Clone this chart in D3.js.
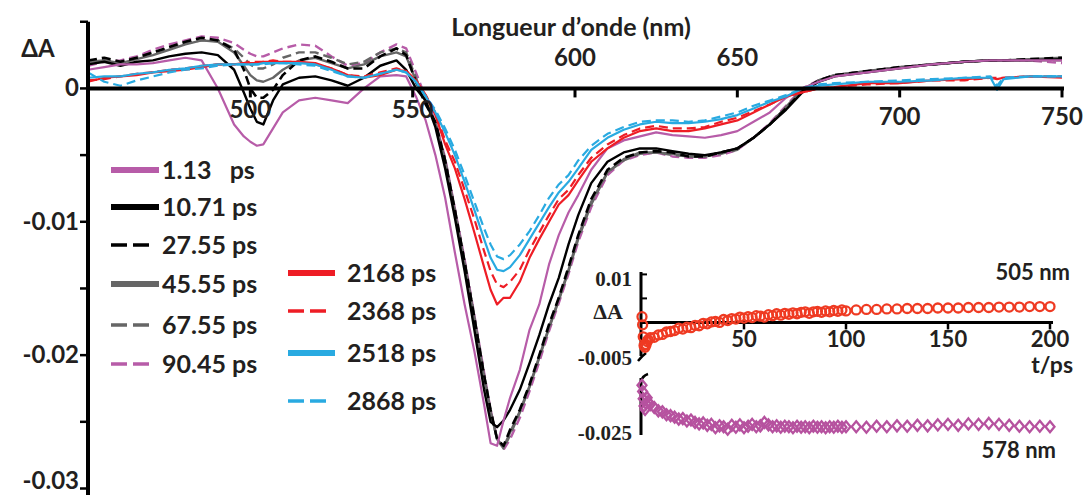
<!DOCTYPE html>
<html><head><meta charset="utf-8">
<script src="https://cdn.jsdelivr.net/npm/d3@7"></script>
<style>
body{margin:0;background:#fff;}
svg{display:block;font-family:Lato,"Open Sans",sans-serif;font-weight:bold;}
.serif{font-family:"Liberation Serif","DejaVu Serif",serif;font-weight:bold;}
</style></head><body>
<svg id="chart" width="1084" height="495"></svg>
<script>
// ---------- DATA ----------
const wavelengths = [450,455,460,465,470,475,480,485,490,495,498,500,502,504,507,510,515,520,525,530,535,540,545,548,551,554,557,560,563,566,569,572,574,576,578,580,583,586,589,592,595,598,601,605,610,615,620,625,630,635,640,645,650,655,660,665,670,675,680,690,700,710,720,728,730,732,740,750];

const dA_1_13ps = [0.0014,0.0016,0.0018,0.0018,0.0019,0.0021,0.0023,0.0021,0.0000,-0.0027,-0.0036,-0.0040,-0.0043,-0.0042,-0.0030,-0.0018,-0.0009,-0.0007,-0.0009,-0.0011,0.0000,0.0009,0.0010,0.0009,-0.0006,-0.0024,-0.0050,-0.0082,-0.0123,-0.0162,-0.0197,-0.0237,-0.0266,-0.0268,-0.0249,-0.0232,-0.0211,-0.0181,-0.0162,-0.0132,-0.0110,-0.0093,-0.0080,-0.0061,-0.0045,-0.0039,-0.0036,-0.0033,-0.0035,-0.0036,-0.0037,-0.0035,-0.0032,-0.0025,-0.0018,-0.0007,0.0000,0.0005,0.0009,0.0012,0.0015,0.0018,0.0020,0.0021,0.0021,0.0021,0.0021,0.0021];
const dA_10_71ps = [0.0018,0.0020,0.0017,0.0020,0.0021,0.0024,0.0026,0.0027,0.0025,0.0014,-0.0003,-0.0015,-0.0025,-0.0027,-0.0009,0.0003,0.0008,0.0009,0.0006,0.0002,0.0008,0.0017,0.0021,0.0014,0.0000,-0.0009,-0.0029,-0.0060,-0.0097,-0.0137,-0.0181,-0.0226,-0.0250,-0.0254,-0.0249,-0.0241,-0.0226,-0.0206,-0.0185,-0.0162,-0.0142,-0.0117,-0.0095,-0.0071,-0.0055,-0.0048,-0.0045,-0.0045,-0.0047,-0.0049,-0.0050,-0.0048,-0.0045,-0.0037,-0.0027,-0.0016,-0.0003,0.0005,0.0009,0.0012,0.0015,0.0018,0.0020,0.0021,0.0021,0.0021,0.0021,0.0022];
const dA_27_55ps = [0.0021,0.0023,0.0020,0.0023,0.0027,0.0031,0.0035,0.0038,0.0036,0.0029,0.0014,0.0000,-0.0007,-0.0007,-0.0001,0.0010,0.0021,0.0024,0.0020,0.0015,0.0015,0.0024,0.0030,0.0025,0.0005,-0.0012,-0.0025,-0.0054,-0.0091,-0.0130,-0.0172,-0.0215,-0.0241,-0.0263,-0.0268,-0.0256,-0.0241,-0.0222,-0.0200,-0.0177,-0.0157,-0.0134,-0.0110,-0.0083,-0.0061,-0.0052,-0.0048,-0.0047,-0.0048,-0.0051,-0.0051,-0.0048,-0.0045,-0.0037,-0.0027,-0.0015,-0.0002,0.0006,0.0010,0.0013,0.0016,0.0018,0.0020,0.0021,0.0021,0.0021,0.0022,0.0023];
const dA_45_55ps = [0.0020,0.0021,0.0019,0.0022,0.0025,0.0029,0.0033,0.0036,0.0035,0.0027,0.0017,0.0010,0.0006,0.0005,0.0008,0.0014,0.0021,0.0023,0.0019,0.0015,0.0018,0.0024,0.0027,0.0024,0.0006,-0.0010,-0.0026,-0.0054,-0.0092,-0.0131,-0.0172,-0.0216,-0.0242,-0.0263,-0.0269,-0.0258,-0.0242,-0.0223,-0.0201,-0.0179,-0.0158,-0.0136,-0.0111,-0.0085,-0.0063,-0.0053,-0.0048,-0.0048,-0.0049,-0.0051,-0.0051,-0.0048,-0.0045,-0.0037,-0.0027,-0.0014,-0.0001,0.0006,0.0010,0.0013,0.0016,0.0018,0.0020,0.0021,0.0021,0.0021,0.0022,0.0023];
const dA_67_55ps = [0.0020,0.0021,0.0020,0.0023,0.0027,0.0030,0.0034,0.0036,0.0036,0.0030,0.0023,0.0018,0.0015,0.0015,0.0018,0.0023,0.0027,0.0027,0.0023,0.0018,0.0020,0.0027,0.0030,0.0027,0.0008,-0.0010,-0.0026,-0.0054,-0.0091,-0.0130,-0.0171,-0.0215,-0.0242,-0.0263,-0.0270,-0.0260,-0.0243,-0.0224,-0.0202,-0.0180,-0.0159,-0.0137,-0.0113,-0.0087,-0.0063,-0.0054,-0.0049,-0.0048,-0.0050,-0.0051,-0.0051,-0.0049,-0.0046,-0.0037,-0.0027,-0.0014,-0.0001,0.0006,0.0010,0.0013,0.0016,0.0018,0.0020,0.0021,0.0021,0.0021,0.0021,0.0021];
const dA_90_45ps = [0.0017,0.0020,0.0021,0.0024,0.0029,0.0033,0.0036,0.0039,0.0038,0.0034,0.0029,0.0026,0.0024,0.0024,0.0027,0.0030,0.0033,0.0032,0.0024,0.0017,0.0019,0.0027,0.0033,0.0030,0.0012,-0.0007,-0.0025,-0.0052,-0.0090,-0.0128,-0.0170,-0.0213,-0.0241,-0.0262,-0.0271,-0.0263,-0.0247,-0.0227,-0.0205,-0.0182,-0.0161,-0.0139,-0.0115,-0.0089,-0.0065,-0.0054,-0.0050,-0.0048,-0.0051,-0.0052,-0.0052,-0.0050,-0.0046,-0.0037,-0.0026,-0.0013,0.0000,0.0006,0.0010,0.0013,0.0016,0.0018,0.0020,0.0021,0.0021,0.0021,0.0021,0.0019];
const dA_2168ps = [0.0005,0.0008,0.0009,0.0010,0.0012,0.0013,0.0014,0.0016,0.0018,0.0018,0.0019,0.0019,0.0019,0.0020,0.0020,0.0020,0.0020,0.0019,0.0015,0.0010,0.0008,0.0010,0.0014,0.0013,0.0006,-0.0005,-0.0020,-0.0042,-0.0060,-0.0083,-0.0108,-0.0134,-0.0151,-0.0162,-0.0157,-0.0157,-0.0145,-0.0127,-0.0113,-0.0100,-0.0087,-0.0080,-0.0069,-0.0055,-0.0045,-0.0037,-0.0032,-0.0030,-0.0032,-0.0032,-0.0030,-0.0027,-0.0024,-0.0018,-0.0012,-0.0006,-0.0003,0.0000,0.0001,0.0004,0.0004,0.0006,0.0007,0.0008,0.0007,0.0008,0.0009,0.0008];
const dA_2368ps = [0.0006,0.0007,0.0009,0.0011,0.0012,0.0014,0.0015,0.0017,0.0018,0.0018,0.0019,0.0020,0.0020,0.0020,0.0021,0.0020,0.0020,0.0018,0.0015,0.0010,0.0009,0.0012,0.0015,0.0013,0.0006,-0.0005,-0.0018,-0.0039,-0.0055,-0.0076,-0.0098,-0.0122,-0.0137,-0.0147,-0.0149,-0.0145,-0.0136,-0.0121,-0.0108,-0.0095,-0.0083,-0.0076,-0.0065,-0.0052,-0.0042,-0.0035,-0.0030,-0.0028,-0.0030,-0.0030,-0.0029,-0.0025,-0.0022,-0.0017,-0.0012,-0.0006,-0.0003,0.0000,0.0001,0.0003,0.0004,0.0006,0.0006,0.0008,0.0008,0.0008,0.0009,0.0009];
const dA_2518ps = [0.0008,0.0009,0.0009,0.0011,0.0012,0.0014,0.0015,0.0017,0.0018,0.0018,0.0018,0.0018,0.0018,0.0019,0.0019,0.0019,0.0019,0.0018,0.0014,0.0009,0.0008,0.0011,0.0014,0.0012,0.0005,-0.0006,-0.0018,-0.0033,-0.0050,-0.0070,-0.0091,-0.0113,-0.0127,-0.0136,-0.0137,-0.0134,-0.0125,-0.0113,-0.0101,-0.0089,-0.0078,-0.0070,-0.0060,-0.0046,-0.0037,-0.0031,-0.0027,-0.0025,-0.0026,-0.0026,-0.0025,-0.0023,-0.0020,-0.0015,-0.0010,-0.0006,0.0000,0.0002,0.0003,0.0005,0.0005,0.0006,0.0008,0.0008,-0.0001,0.0007,0.0009,0.0009];
const dA_2868ps = [0.0012,0.0005,0.0002,0.0006,0.0009,0.0012,0.0014,0.0015,0.0017,0.0018,0.0018,0.0018,0.0018,0.0018,0.0019,0.0019,0.0018,0.0017,0.0013,0.0009,0.0008,0.0011,0.0014,0.0012,0.0005,-0.0006,-0.0016,-0.0030,-0.0046,-0.0065,-0.0085,-0.0105,-0.0117,-0.0126,-0.0128,-0.0125,-0.0117,-0.0107,-0.0095,-0.0082,-0.0072,-0.0065,-0.0054,-0.0043,-0.0034,-0.0029,-0.0025,-0.0024,-0.0024,-0.0025,-0.0024,-0.0021,-0.0018,-0.0013,-0.0009,-0.0005,0.0000,0.0003,0.0004,0.0005,0.0006,0.0007,0.0008,0.0009,0.0002,0.0008,0.0009,0.0009];

const legendLabels = ["1.13   ps","10.71 ps","27.55 ps","45.55 ps","67.55 ps","90.45 ps","2168 ps","2368 ps","2518 ps","2868 ps"];
const xTickValues = [500,550,600,650,700,750];
const yTickLabelValues = [0,-0.01,-0.02,-0.03];
const yMinorTicks = [0.005,0,-0.005,-0.01,-0.015,-0.02,-0.025,-0.03];

// inset kinetics
const insetTime = [0,0.3,0.6,1,1.5,2,2.5,3,4,6,8,10,12,14,16,18,20,22,24,26,28,30,32,34,36,38,40,42,44,46,48,50,52,54,56,58,60,62,64,66,68,70,72,74,76,78,80,82,84,86,88,90,92,94,96,98,100,105,110,115,120,125,130,135,140,145,150,155,160,165,170,175,180,185,190,195,200];
const kin505 = [0.0012,-0.0005,-0.0030,-0.0048,-0.0052,-0.0046,-0.0040,-0.0036,
 -0.0032,-0.0031,-0.0026,-0.0025,-0.0020,-0.0019,-0.0017,-0.0012,-0.0014,-0.0010,-0.0011,-0.0006,-0.0007,-0.0002,-0.0003,0.0001,0.0002,0.0000,0.0006,0.0004,0.0008,0.0007,0.0011,0.0009,0.0012,0.0010,0.0014,0.0013,0.0011,0.0016,0.0014,0.0018,0.0015,0.0019,0.0017,0.0020,0.0018,0.0021,0.0022,0.0019,0.0022,0.0023,0.0021,0.0024,0.0022,0.0025,0.0023,0.0026,0.0024,
 0.0026,0.0027,0.0027,0.0028,0.0028,0.0029,0.0029,0.0029,0.0030,0.0030,0.0030,0.0031,0.0031,0.0031,0.0032,0.0032,0.0032,0.0033,0.0033,0.0033];
const kin578 = [-0.0152,-0.0165,-0.0180,-0.0195,-0.0202,-0.0190,-0.0178,-0.0186,
 -0.0192,-0.0198,-0.0205,-0.0207,-0.0213,-0.0215,-0.0218,-0.0222,-0.0221,-0.0226,-0.0224,-0.0229,-0.0232,-0.0230,-0.0235,-0.0233,-0.0240,-0.0236,-0.0238,-0.0243,-0.0235,-0.0239,-0.0234,-0.0240,-0.0237,-0.0233,-0.0238,-0.0236,-0.0229,-0.0234,-0.0238,-0.0236,-0.0239,-0.0237,-0.0238,-0.0240,-0.0237,-0.0239,-0.0238,-0.0240,-0.0237,-0.0239,-0.0238,-0.0240,-0.0238,-0.0239,-0.0237,-0.0239,-0.0238,
 -0.0238,-0.0239,-0.0237,-0.0238,-0.0236,-0.0237,-0.0235,-0.0236,-0.0234,-0.0233,-0.0235,-0.0232,-0.0233,-0.0231,-0.0233,-0.0235,-0.0237,-0.0238,-0.0237,-0.0238];
const insetXTicks = [50,100,150,200];
const insetYTicksTop = [0.01,-0.005];
const insetYTicksBottom = [-0.025];

// ---------- STYLES ----------
const PURPLE="#b75ca8", BLACK="#000", GRAY="#666", RED="#ee1d25", BLUE="#29aae1", TXT="#231f20";
const seriesDefs = [
  {data:dA_90_45ps, color:PURPLE, dash:true, w:2.4, leg:5},
  {data:dA_67_55ps, color:GRAY,   dash:true, w:2.4, leg:4},
  {data:dA_45_55ps, color:GRAY,   dash:false,w:2.4, leg:3},
  {data:dA_27_55ps, color:BLACK,  dash:true, w:2.6, leg:2},
  {data:dA_10_71ps, color:BLACK,  dash:false,w:2.4, leg:1},
  {data:dA_1_13ps,  color:PURPLE, dash:false,w:2.2, leg:0},
  {data:dA_2168ps,  color:RED,    dash:false,w:2.2, leg:6},
  {data:dA_2368ps,  color:RED,    dash:true, w:2.2, leg:7},
  {data:dA_2518ps,  color:BLUE,   dash:false,w:2.2, leg:8},
  {data:dA_2868ps,  color:BLUE,   dash:true, w:2.2, leg:9}
];

const svg = d3.select("#chart");
const x = d3.scaleLinear().domain([450,750]).range([88,1062]);
const y = d3.scaleLinear().domain([-0.03,0.005]).range([488.5,21.75]);

const line = d3.line().x(d=>x(d[0])).y(d=>y(d[1]));
const gLines = svg.append("g");
seriesDefs.forEach(s=>{
  gLines.append("path")
    .attr("d", line(wavelengths.map((w,i)=>[w,s.data[i]])))
    .attr("fill","none").attr("stroke",s.color).attr("stroke-width",s.w)
    .attr("stroke-linejoin","round")
    .attr("stroke-dasharray", s.dash?"9,5":null);
});

// axes
const y0 = y(0);
svg.append("line").attr("x1",x(450)).attr("x2",x(750)+2).attr("y1",y0).attr("y2",y0)
  .attr("stroke","#000").attr("stroke-width",4);
svg.append("line").attr("x1",x(450)).attr("x2",x(450)).attr("y1",y(0.005)).attr("y2",495)
  .attr("stroke","#000").attr("stroke-width",4);
xTickValues.forEach(v=>{
  svg.append("line").attr("x1",x(v)).attr("x2",x(v)).attr("y1",y0).attr("y2",y0+9)
    .attr("stroke","#000").attr("stroke-width",3);
  const above = (v===600||v===650);
  const dyOff = above ? -22 : (v>=700 ? 37 : 30);
  svg.append("text").attr("x",x(v)).attr("y",y0+dyOff).attr("text-anchor","middle")
    .attr("font-size",24).attr("fill",TXT).text(v);
});
yMinorTicks.forEach(v=>{
  svg.append("line").attr("x1",x(450)-8).attr("x2",x(450)).attr("y1",y(v)).attr("y2",y(v))
    .attr("stroke","#000").attr("stroke-width",2.5);
});
yTickLabelValues.forEach(v=>{
  svg.append("text").attr("x",79).attr("y",Math.min(y(v)+8,489)).attr("text-anchor","end")
    .attr("font-size",24).attr("fill",TXT).text(v===0?"0":String(v));
});
svg.append("text").attr("x",38).attr("y",57).attr("text-anchor","middle")
  .attr("font-size",24).attr("fill",TXT).text("ΔA");
svg.append("text").attr("x",571).attr("y",36).attr("text-anchor","middle")
  .attr("font-size",25).attr("fill",TXT).text("Longueur d’onde (nm)");

// legend
const legRowsL = [170,207,245,284,325,364];
const legRowsR = [273,311,353,401];
seriesDefs.slice().sort((a,b)=>a.leg-b.leg).forEach((s,i)=>{
  const left = i<6;
  const yy = left ? legRowsL[i] : legRowsR[i-6];
  const x1 = left ? 111 : 288, x2 = left ? (s.dash?149:159) : (s.dash?326:335);
  svg.append("line").attr("x1",x1).attr("x2",x2).attr("y1",yy).attr("y2",yy)
    .attr("stroke",s.color).attr("stroke-width",s.dash?3.5:6)
    .attr("stroke-dasharray",s.dash?"16,6":null);
  svg.append("text").attr("x",left?162:347).attr("y",yy+9)
    .attr("font-size",25).attr("fill",TXT).style("white-space","pre")
    .text(legendLabels[s.leg]);
});

// ---------- INSET ----------
const xi = d3.scaleLinear().domain([0,200]).range([642,1050]);
const yiTop = d3.scaleLinear().domain([-0.007,0.0105]).range([356,272]);
const yiBot = d3.scaleLinear().domain([-0.0255,-0.0137]).range([435,378]);
const ax = 641;
svg.append("line").attr("x1",ax).attr("x2",ax).attr("y1",yiTop(0.0105)).attr("y2",yiTop(-0.007))
  .attr("stroke","#000").attr("stroke-width",3);
svg.append("line").attr("x1",ax).attr("x2",ax).attr("y1",yiBot(-0.0137)).attr("y2",yiBot(-0.0255))
  .attr("stroke","#000").attr("stroke-width",3);
// break marks
svg.append("path").attr("d",`M${ax-3},${yiTop(-0.007)+5} Q${ax+1},${yiTop(-0.007)} ${ax+5},${yiTop(-0.007)-3}`)
  .attr("fill","none").attr("stroke","#000").attr("stroke-width",2.5);
svg.append("path").attr("d",`M${ax},${yiBot(-0.0137)+4} Q${ax+1},${yiBot(-0.0137)-2} ${ax+7},${yiBot(-0.0137)-4}`)
  .attr("fill","none").attr("stroke","#000").attr("stroke-width",2.5);
[0.01,0.005].forEach(v=>{
  svg.append("line").attr("x1",ax).attr("x2",ax+6).attr("y1",yiTop(v)).attr("y2",yiTop(v))
    .attr("stroke","#000").attr("stroke-width",2);
});
svg.append("line").attr("x1",ax).attr("x2",xi(200)+3).attr("y1",yiTop(0)).attr("y2",yiTop(0))
  .attr("stroke","#000").attr("stroke-width",3);
insetXTicks.forEach(v=>{
  svg.append("line").attr("x1",xi(v)).attr("x2",xi(v)).attr("y1",yiTop(0)).attr("y2",yiTop(0)+7)
    .attr("stroke","#000").attr("stroke-width",2.5);
  svg.append("text").attr("x",xi(v)).attr("y",yiTop(0)+25).attr("text-anchor","middle")
    .attr("font-size",22).attr("fill",TXT).text(v);
});
svg.append("text").attr("class","serif").attr("x",632).attr("y",yiTop(0.01)+12).attr("text-anchor","end")
  .attr("font-size",21).attr("fill",TXT).text(String(insetYTicksTop[0]));
svg.append("text").attr("class","serif").attr("x",632).attr("y",yiTop(-0.005)+19).attr("text-anchor","end")
  .attr("font-size",21).attr("fill",TXT).text(String(insetYTicksTop[1]));
svg.append("text").attr("class","serif").attr("x",632).attr("y",yiBot(-0.025)+7).attr("text-anchor","end")
  .attr("font-size",21).attr("fill",TXT).text(String(insetYTicksBottom[0]));
svg.append("text").attr("class","serif").attr("x",608).attr("y",319).attr("text-anchor","middle")
  .attr("font-size",22).attr("fill",TXT).text("ΔA");
svg.append("text").attr("x",1073).attr("y",373).attr("text-anchor","end")
  .attr("font-size",23).attr("fill",TXT).text("t/ps");
svg.append("text").attr("x",1070).attr("y",280).attr("text-anchor","end")
  .attr("font-size",22).attr("fill",TXT).text("505 nm");
svg.append("text").attr("x",1056).attr("y",458).attr("text-anchor","end")
  .attr("font-size",22).attr("fill",TXT).text("578 nm");

svg.append("g").selectAll("circle").data(insetTime.map((t,i)=>[t,kin505[i]])).join("circle")
  .attr("cx",d=>xi(d[0])).attr("cy",d=>yiTop(d[1])).attr("r",4.5)
  .attr("fill","none").attr("stroke","#ef3a22").attr("stroke-width",2.3);
svg.append("g").selectAll("path").data(insetTime.map((t,i)=>[t,kin578[i]])).join("path")
  .attr("transform",d=>`translate(${xi(d[0])},${yiBot(d[1])})`)
  .attr("d","M0,-5.5L4.5,0L0,5.5L-4.5,0Z")
  .attr("fill","none").attr("stroke","#b6529f").attr("stroke-width",2.3);
</script>
</body></html>
